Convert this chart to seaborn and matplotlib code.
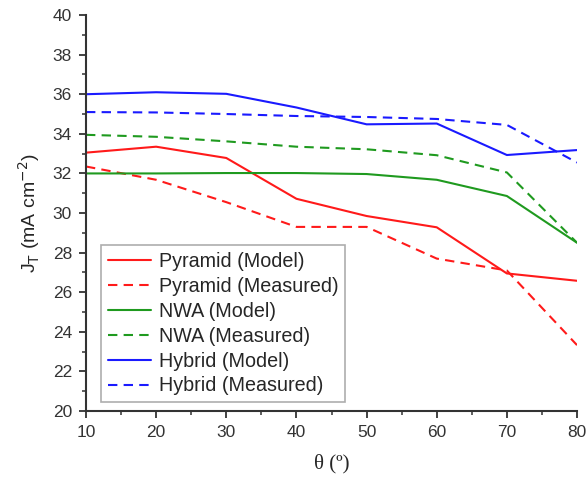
import pandas as pd
import seaborn as sns
import matplotlib.pyplot as plt
from matplotlib.ticker import MultipleLocator

theta = [10, 20, 30, 40, 50, 60, 70, 80]

pyramid_model = [33.05, 33.35, 32.78, 30.72, 29.85, 29.28, 26.95, 26.58]
pyramid_measured = [32.35, 31.68, 30.55, 29.3, 29.3, 27.7, 27.1, 23.33]
nwa_model = [32.0, 32.0, 32.02, 32.02, 31.97, 31.68, 30.86, 28.5]
nwa_measured = [33.95, 33.85, 33.62, 33.35, 33.22, 32.92, 32.05, 28.5]
hybrid_model = [36.0, 36.1, 36.02, 35.33, 34.48, 34.52, 32.93, 33.18]
hybrid_measured = [35.1, 35.08, 35.0, 34.9, 34.85, 34.75, 34.45, 32.55]

series = [
    ("Pyramid (Model)", pyramid_model, "#ff1a1a", False),
    ("Pyramid (Measured)", pyramid_measured, "#ff1a1a", True),
    ("NWA (Model)", nwa_model, "#1f9a1f", False),
    ("NWA (Measured)", nwa_measured, "#1f9a1f", True),
    ("Hybrid (Model)", hybrid_model, "#1a1aff", False),
    ("Hybrid (Measured)", hybrid_measured, "#1a1aff", True),
]

sns.set_style("ticks")
plt.rcParams['font.family'] = ['Liberation Sans', 'DejaVu Sans']

fig = plt.figure(figsize=(5.87, 4.78), dpi=100)
ax = fig.add_axes([0.1465, 0.140, 0.8365, 0.8286])

for name, vals, col, dashed in series:
    df = pd.DataFrame({"theta": theta, "J": vals})
    line = sns.lineplot(data=df, x="theta", y="J", ax=ax, color=col,
                        linewidth=1.5, label=name).lines[-1]
    if dashed:
        line.set_dashes((4.5, 3))

ax.set_xlim(10, 80)
ax.set_ylim(20, 40)
ax.xaxis.set_major_locator(MultipleLocator(10))
ax.xaxis.set_minor_locator(MultipleLocator(5))
ax.yaxis.set_major_locator(MultipleLocator(2))
ax.yaxis.set_minor_locator(MultipleLocator(1))
ax.tick_params(which='major', length=5, width=1.3, labelsize=12.5, colors='#333333', pad=5)
ax.tick_params(which='minor', length=3, width=1.1, colors='#333333')
for s in ['left', 'bottom']:
    ax.spines[s].set_color('#333333')
    ax.spines[s].set_linewidth(1.5)
sns.despine(ax=ax)

ax.set_xlabel('θ (º)', fontsize=15, family='Liberation Serif', labelpad=10)
ax.set_ylabel(r'J$_{\rm T}$ (mA cm$^{-2}$)', fontsize=14, labelpad=8)

leg = ax.legend(loc='lower left', bbox_to_anchor=(0.03, 0.022), borderaxespad=0,
                fontsize=14.2, frameon=True, fancybox=False, handlelength=2.2,
                handletextpad=0.4, labelspacing=0.3, borderpad=0.35)
leg.get_frame().set_edgecolor('#999999')
leg.get_frame().set_linewidth(1.2)

fig.savefig("out.png", dpi=100)
